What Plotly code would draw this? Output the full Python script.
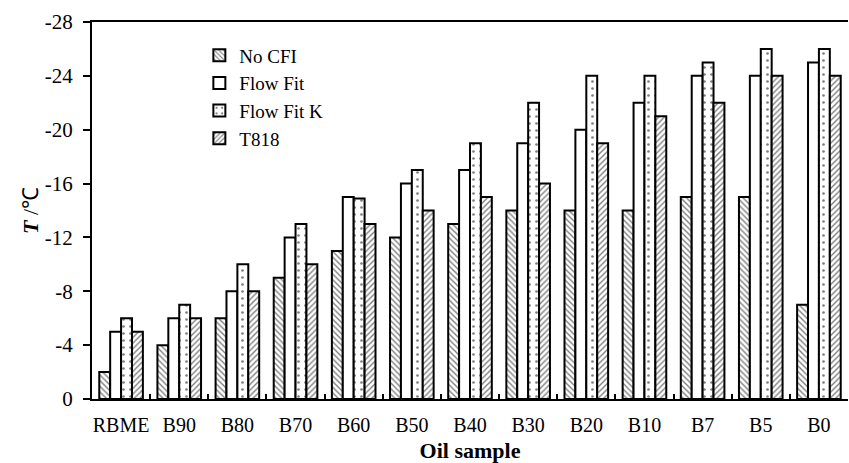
import plotly.graph_objects as go

categories = ["RBME", "B90", "B80", "B70", "B60", "B50", "B40", "B30", "B20", "B10", "B7", "B5", "B0"]
no_cfi = [-2, -4, -6, -9, -11, -12, -13, -14, -14, -14, -15, -15, -7]
flow_fit = [-5, -6, -8, -12, -15, -16, -17, -19, -20, -22, -24, -24, -25]
flow_fit_k = [-6, -7, -10, -13, -14.9, -17, -19, -22, -24, -24, -25, -26, -26]
t818 = [-5, -6, -8, -10, -13, -14, -15, -16, -19, -21, -22, -24, -24]
y_ticks = [0, -4, -8, -12, -16, -20, -24, -28]
y_tick_text = ["0", "-4", "-8", "-12", "-16", "-20", "-24", "-28"]

FONT = "Liberation Serif"

def pat(shape, size, solidity):
    return dict(shape=shape, fgcolor="black", bgcolor="white", size=size, solidity=solidity)

series = [
    ("No CFI", no_cfi, pat("\\", 4, 0.35)),
    ("Flow Fit", flow_fit, pat("", 4, 0.3)),
    ("Flow Fit K", flow_fit_k, pat(".", 7, 0.12)),
    ("T818", t818, pat("/", 4, 0.35)),
]

fig = go.Figure()
for name, vals, p in series:
    fig.add_trace(go.Bar(
        x=categories, y=vals, name=name,
        marker=dict(color="white", line=dict(color="black", width=2), pattern=p),
    ))

fig.update_layout(
    width=849, height=463,
    margin=dict(l=92, r=1, t=22, b=64),
    paper_bgcolor="white", plot_bgcolor="white",
    barmode="group", bargap=0.25, bargroupgap=0,
    font=dict(family=FONT, size=21, color="black"),
    legend=dict(x=0.142, y=0.962, xanchor="left", yanchor="top",
                font=dict(family=FONT, size=19, color="black"),
                bgcolor="rgba(0,0,0,0)", tracegroupgap=0, itemwidth=30),
    showlegend=True,
)
fig.update_xaxes(
    showline=True, linecolor="black", linewidth=2, mirror=True,
    ticks="inside", tickson="boundaries", ticklen=5, tickwidth=1.5, tickcolor="black",
    tickfont=dict(family=FONT, size=20), tickangle=0, automargin=False,
    ticklabelstandoff=7,
    title=dict(text="<b>Oil sample</b>", font=dict(family=FONT, size=22), standoff=12),
    showgrid=False,
)
fig.update_yaxes(
    range=[0, -28], tickvals=y_ticks, ticktext=y_tick_text,
    showline=True, linecolor="black", linewidth=2, automargin=False,
    ticks="outside", ticklen=7, tickwidth=1.5, tickcolor="black",
    tickfont=dict(family=FONT, size=21), ticklabelstandoff=6,
    title=dict(text="<b><i>T</i></b> /℃", font=dict(family=FONT, size=22), standoff=0),
    showgrid=False, zeroline=False,
)

fig.write_html("out.html")
